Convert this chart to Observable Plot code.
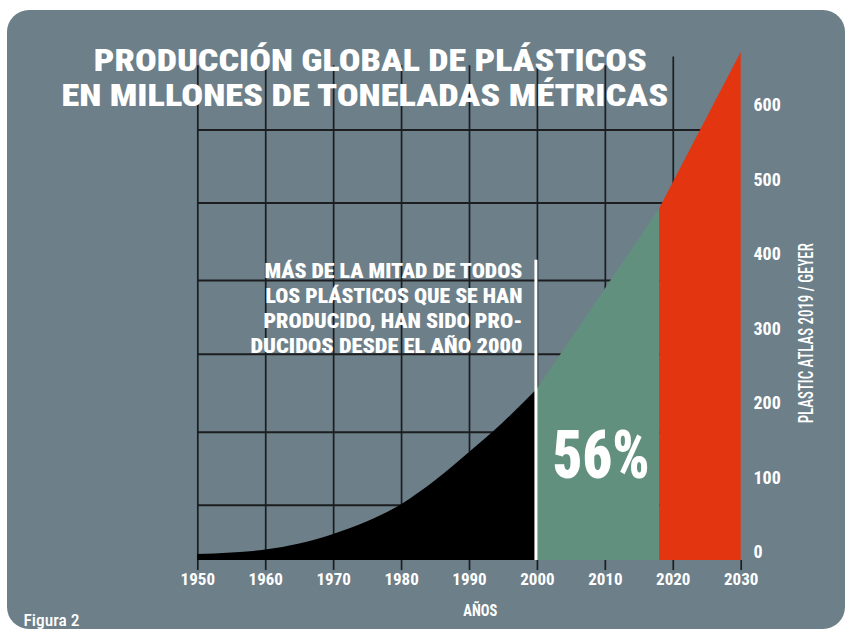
<!DOCTYPE html>
<html><head><meta charset="utf-8">
<script src="https://cdn.jsdelivr.net/npm/d3@7"></script>
<script src="https://cdn.jsdelivr.net/npm/@observablehq/plot@0.6"></script>
<style>
html,body{margin:0;padding:0;background:#fff;}
#wrap{position:relative;width:846px;height:631px;overflow:hidden;}
#bg{position:absolute;left:7px;top:10px;width:838px;height:619px;border-radius:22px;background:#6d7f89;}
#chart{position:absolute;left:0;top:0;}
</style></head><body>
<div id="wrap"><div id="bg"></div><div id="chart"></div></div>
<script>
// ---- data ----
const historyYears = [1950,1955,1960,1965,1970,1975,1980,1985,1990,1995,2000];
const historyProduction = [8,10,14,22,35,52,75,107,145,185,230];
const recentYears = [2000,2018];
const recentProduction = [230,472];
const projectionYears = [2018,2030];
const projectionProduction = [472,682];
const xTicks = [1950,1960,1970,1980,1990,2000,2010,2020,2030];
const yTicks = [0,100,200,300,400,500,600];
const gridYears = [1950,1960,1970,1980,1990,2000,2010,2020];
const gridValues = [74,172,277,376,480,578];
const titleLines = ["PRODUCCIÓN GLOBAL DE PLÁSTICOS","EN MILLONES DE TONELADAS MÉTRICAS"];
const noteLines = ["MÁS DE LA MITAD DE TODOS","LOS PLÁSTICOS QUE SE HAN","PRODUCIDO, HAN SIDO PRO-","DUCIDOS DESDE EL AÑO 2000"];
const shareLabel = "56%";
const sourceLabel = "PLASTIC ATLAS 2019 / GEYER";
const xLabel = "AÑOS";
const figLabel = "Figura 2";

const FONT = '"Liberation Sans Narrow","Roboto Condensed","DejaVu Sans Condensed","Arial Narrow",sans-serif';
const GRID = "#1b1d1f";

const hist = historyYears.map((x,i)=>({x, y: historyProduction[i]}));
const recent = recentYears.map((x,i)=>({x, y: recentProduction[i]}));
const proj = projectionYears.map((x,i)=>({x, y: projectionProduction[i]}));

const noteTop = 398.7, noteStep = 33.6;

const chart = Plot.plot({
  width: 846, height: 631,
  marginLeft: 197.3, marginRight: 105.3, marginTop: 38.5, marginBottom: 71,
  x: {domain: [1950, 2030]},
  y: {domain: [0, 700]},
  style: {background: "transparent", color: "#fff", fontFamily: FONT, overflow: "visible"},
  marks: [
    Plot.ruleY(gridValues, {x1: 1950, x2: 2025, stroke: GRID, strokeWidth: 2}),
    Plot.ruleX(gridYears, {y1: 0, y2: d => d === 2020 ? 676 : 664, stroke: GRID, strokeWidth: 1.7}),
    Plot.ruleX(xTicks, {y1: -13.5, y2: 0, stroke: GRID, strokeWidth: 1.7}),
    Plot.areaY(hist, {x: "x", y: "y", fill: "#000", curve: "monotone-x"}),
    Plot.areaY(recent, {x: "x", y: "y", fill: "#62907f"}),
    Plot.areaY(proj, {x: "x", y: "y", fill: "#e3350f"}),
    Plot.ruleX([2000], {y1: 0, y2: 403, stroke: "#fff", strokeWidth: 3, dx: -1.5}),
    Plot.axisX({ticks: xTicks, tickSize: 0, tickPadding: 12, tickFormat: "d", fontSize: 17, fontWeight: "bold", fill: "#fff", label: null}),
    Plot.axisY({anchor: "right", ticks: yTicks, tickSize: 0, tickPadding: 12.3, textAnchor: "start", dy: -8, fontSize: 18, fontWeight: "bold", fill: "#fff", label: null}),
    Plot.text(noteLines, {x: 2000, y: (d,i) => noteTop - i*noteStep, dx: -15, text: d => d, textAnchor: "end", lineAnchor: "top", fontSize: 21, fontWeight: 900, fill: "#fff"}),
    Plot.text([shareLabel], {x: 2009.4, y: 140, text: d => d, fontSize: 67, fontWeight: 900, fill: "#fff"}),
    Plot.text([sourceLabel], {x: 2039.7, y: 305, text: d => d, rotate: -90, fontSize: 20, fontWeight: 500, fill: "#fff"}),
    Plot.text([xLabel], {x: 1991.6, y: -66.6, text: d => d, fontSize: 17, fontWeight: "bold", fill: "#fff"}),
    Plot.text([figLabel], {x: 1924.34, y: -80, text: d => d, textAnchor: "start", fontSize: 17, fontWeight: 500, fill: "#fff"}),
    Plot.text(titleLines, {x: (d,i) => i ? 1974.6 : 1975.4, y: (d,i) => i ? 610.4 : 656.8, text: d => d, textAnchor: "middle", lineAnchor: "bottom", fontSize: 31, fontWeight: 900, fill: "#fff"})
  ]
});
document.getElementById("chart").appendChild(chart);

// stretch condensed texts to the widths seen in the picture
const widths = new Map([
  [titleLines[0], 553], [titleLines[1], 607],
  [noteLines[0], 258], [noteLines[1], 257], [noteLines[2], 259], [noteLines[3], 272],
  [shareLabel, 97], [sourceLabel, 180], [xLabel, 34], [figLabel, 56]
]);
d3.select(chart).selectAll("text").each(function() {
  const t = this.textContent;
  if (widths.has(t)) { this.setAttribute("textLength", widths.get(t)); this.setAttribute("lengthAdjust", "spacingAndGlyphs"); }
});
</script>
</body></html>
